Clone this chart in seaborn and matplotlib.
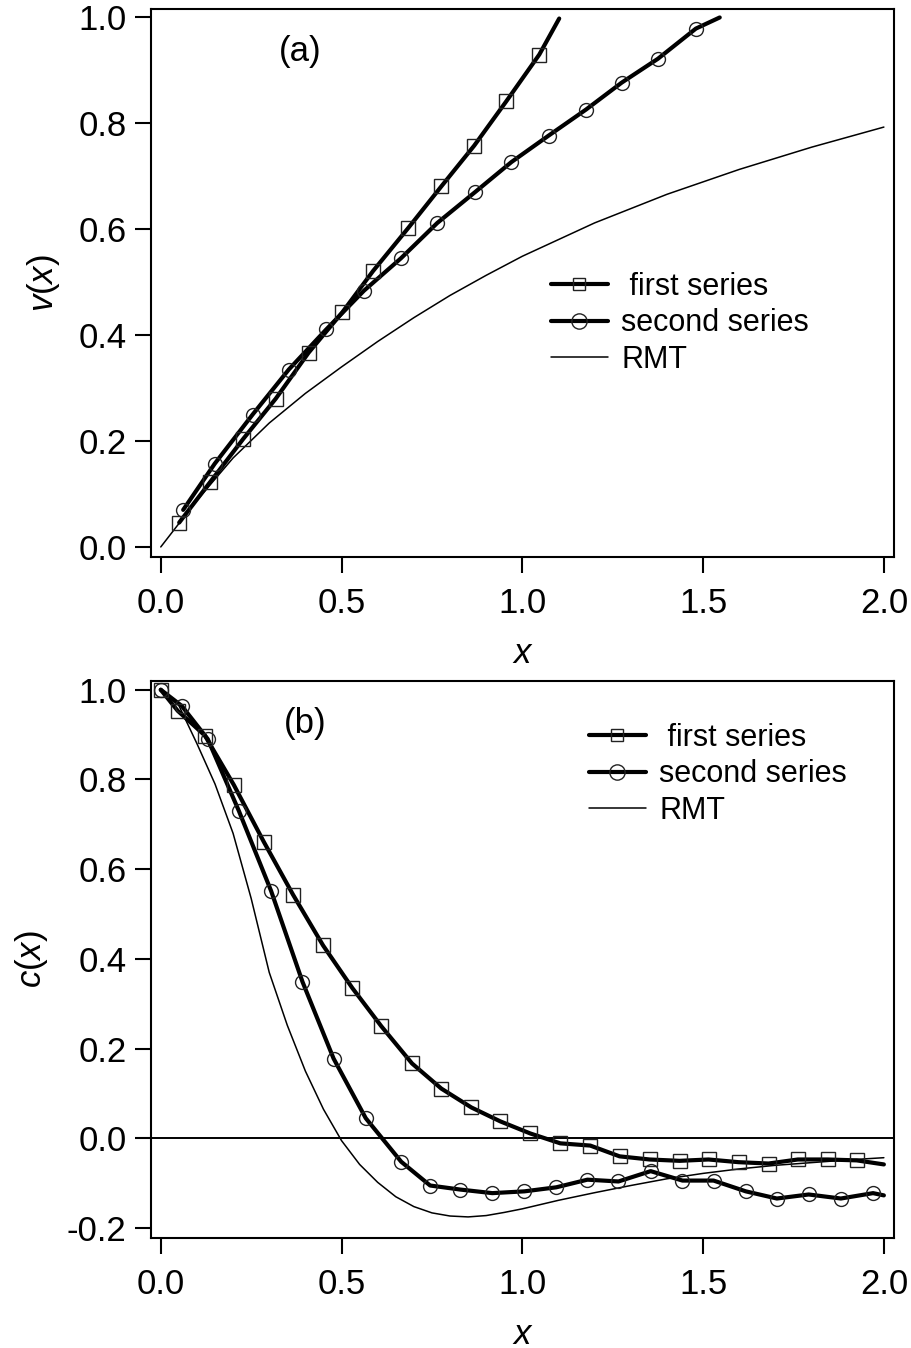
import numpy as np
import pandas as pd
import matplotlib
matplotlib.use("Agg")
import matplotlib.pyplot as plt
from matplotlib.lines import Line2D
import seaborn as sns

# ---------------- data ----------------
# panel (a): v(x)
a_first_x = [0.051, 0.136, 0.228, 0.318, 0.409, 0.502, 0.587, 0.684, 0.776, 0.867, 0.956, 1.047]
a_first_y = [0.046, 0.122, 0.204, 0.280, 0.367, 0.443, 0.521, 0.602, 0.681, 0.758, 0.842, 0.930]
a_first_end = (1.102, 0.998)

a_second_x = [0.062, 0.149, 0.254, 0.354, 0.458, 0.562, 0.664, 0.765, 0.869, 0.970, 1.073, 1.176, 1.275, 1.375, 1.480]
a_second_y = [0.070, 0.157, 0.250, 0.335, 0.411, 0.484, 0.545, 0.612, 0.670, 0.727, 0.777, 0.826, 0.877, 0.922, 0.979]
a_second_end = (1.546, 1.000)

a_rmt_x = [0.0, 0.1, 0.2, 0.3, 0.4, 0.5, 0.6, 0.7, 0.8, 0.9, 1.0, 1.2, 1.4, 1.6, 1.8, 2.0]
a_rmt_y = [0.0, 0.088, 0.168, 0.234, 0.290, 0.340, 0.388, 0.433, 0.475, 0.513, 0.549, 0.612, 0.666, 0.713, 0.755, 0.793]

# panel (b): c(x)
b_first_x = [0.0, 0.047, 0.122, 0.202, 0.285, 0.366, 0.449, 0.530, 0.610, 0.695, 0.776, 0.859, 0.939,
             1.022, 1.105, 1.188, 1.269, 1.352, 1.435, 1.515, 1.598, 1.681, 1.762, 1.845, 1.925]
b_first_y = [1.0, 0.953, 0.898, 0.788, 0.661, 0.543, 0.430, 0.335, 0.250, 0.167, 0.111, 0.069, 0.038,
             0.011, -0.011, -0.016, -0.040, -0.047, -0.050, -0.047, -0.053, -0.056, -0.047, -0.047, -0.049]
b_first_end = (2.0, -0.058)

b_second_x = [0.0, 0.058, 0.130, 0.216, 0.305, 0.392, 0.478, 0.567, 0.665, 0.745, 0.828, 0.917, 1.006,
              1.094, 1.180, 1.266, 1.355, 1.443, 1.529, 1.618, 1.704, 1.792, 1.881, 1.970]
b_second_y = [1.0, 0.964, 0.890, 0.730, 0.552, 0.349, 0.178, 0.045, -0.052, -0.105, -0.114, -0.122, -0.118,
              -0.109, -0.092, -0.096, -0.073, -0.094, -0.094, -0.118, -0.134, -0.125, -0.134, -0.122]
b_second_end = (2.0, -0.127)

b_rmt_x = [0.0, 0.05, 0.1, 0.15, 0.2, 0.25, 0.3, 0.35, 0.4, 0.45, 0.5, 0.55, 0.6, 0.65, 0.7, 0.75, 0.8,
           0.85, 0.9, 0.95, 1.0, 1.1, 1.2, 1.3, 1.4, 1.5, 1.6, 1.7, 1.8, 1.9, 2.0]
b_rmt_y = [1.0, 0.965, 0.880, 0.790, 0.680, 0.535, 0.370, 0.252, 0.150, 0.065, -0.005, -0.058, -0.098,
           -0.130, -0.152, -0.166, -0.173, -0.175, -0.172, -0.165, -0.157, -0.138, -0.121, -0.105,
           -0.090, -0.078, -0.068, -0.060, -0.054, -0.048, -0.043]
b_zero_level = 0.0

x_ticks = [0.0, 0.5, 1.0, 1.5, 2.0]
x_ticklabels = ["0.0", "0.5", "1.0", "1.5", "2.0"]
a_y_ticks = [0.0, 0.2, 0.4, 0.6, 0.8, 1.0]
a_y_ticklabels = ["0.0", "0.2", "0.4", "0.6", "0.8", "1.0"]
b_y_ticks = [-0.2, 0.0, 0.2, 0.4, 0.6, 0.8, 1.0]
b_y_ticklabels = ["-0.2", "0.0", "0.2", "0.4", "0.6", "0.8", "1.0"]
legend_labels = [" first series", "second series", "RMT"]

# ---------------- style ----------------
sns.set_theme(style="ticks")
plt.rcParams["font.family"] = ["Liberation Sans", "DejaVu Sans"]
plt.rcParams["mathtext.fontset"] = "custom"
plt.rcParams["mathtext.rm"] = "Liberation Sans"
plt.rcParams["mathtext.it"] = "Liberation Sans:italic"
plt.rcParams["text.color"] = "black"
plt.rcParams["axes.labelcolor"] = "black"
plt.rcParams["xtick.color"] = "black"
plt.rcParams["ytick.color"] = "black"

TICK_FS = 25
LEG_FS = 22
THICK = 3.0
THIN = 1.1
MS = 10

fig = plt.figure(figsize=(9.12, 13.48), dpi=100)
W, H = 912, 1348
ax_a = fig.add_axes([151 / W, 1 - 557 / H, (894 - 151) / W, (557 - 9) / H])
ax_b = fig.add_axes([151 / W, 1 - 1238 / H, (894 - 151) / W, (1238 - 681) / H])


def series(ax, xs, ys, end, marker):
    lx = list(xs) + [end[0]]
    ly = list(ys) + [end[1]]
    sns.lineplot(x=lx, y=ly, ax=ax, color="black", linewidth=THICK, sort=False,
                 estimator=None, zorder=3)
    sns.lineplot(x=xs, y=ys, ax=ax, marker=marker, linestyle="", markersize=MS,
                 markerfacecolor="none", markeredgecolor="#222222", markeredgewidth=1.0,
                 sort=False, estimator=None, zorder=4)


def style_axes(ax, yt, ytl, ylim, ylabel):
    ax.set_xlim(-0.027, 2.028)
    ax.set_ylim(*ylim)
    ax.set_xticks(x_ticks)
    ax.set_xticklabels(x_ticklabels)
    ax.set_yticks(yt)
    ax.set_yticklabels(ytl)
    ax.tick_params(axis="both", direction="out", length=11.5, width=1.5,
                   labelsize=TICK_FS, color="black", labelcolor="black")
    ax.tick_params(axis="x", pad=10)
    ax.tick_params(axis="y", pad=6)
    for s in ax.spines.values():
        s.set_visible(True)
        s.set_linewidth(1.5)
        s.set_color("black")
    ax.set_xlabel(r"$x$", fontsize=TICK_FS, labelpad=12)
    ax.set_ylabel(ylabel, fontsize=TICK_FS, labelpad=12)
    ax.set_facecolor("white")
    ax.grid(False)


def legend(ax, anchor):
    handles = [
        Line2D([], [], color="black", lw=THICK, marker="s", markersize=MS - 1,
               markerfacecolor="none", markeredgecolor="#222222", markeredgewidth=1.0),
        Line2D([], [], color="black", lw=THICK, marker="o", markersize=MS + 1,
               markerfacecolor="none", markeredgecolor="#222222", markeredgewidth=1.0),
        Line2D([], [], color="black", lw=THIN),
    ]
    ax.legend(handles, legend_labels, loc="upper left", bbox_to_anchor=anchor,
              bbox_transform=fig.transFigure, frameon=False, fontsize=LEG_FS,
              handlelength=1.85, handletextpad=0.45, labelspacing=0.21,
              borderpad=0, borderaxespad=0, labelcolor="black")


# ---- panel (a)
series(ax_a, a_first_x, a_first_y, a_first_end, "s")
series(ax_a, a_second_x, a_second_y, a_second_end, "o")
sns.lineplot(x=a_rmt_x, y=a_rmt_y, ax=ax_a, color="black", linewidth=THIN, sort=False, estimator=None)
style_axes(ax_a, a_y_ticks, a_y_ticklabels, (-0.019, 1.016), r"$v(x)$")
ax_a.text(0.385, 0.935, "(a)", fontsize=TICK_FS, ha="center", va="center")
legend(ax_a, (551 / W, 1 - 272 / H))

# ---- panel (b)
ax_b.axhline(b_zero_level, color="black", linewidth=1.4, zorder=1)
series(ax_b, b_first_x, b_first_y, b_first_end, "s")
series(ax_b, b_second_x, b_second_y, b_second_end, "o")
sns.lineplot(x=b_rmt_x, y=b_rmt_y, ax=ax_b, color="black", linewidth=THIN, sort=False, estimator=None)
style_axes(ax_b, b_y_ticks, b_y_ticklabels, (-0.222, 1.0195), r"$c(x)$")
ax_b.text(0.40, 0.925, "(b)", fontsize=TICK_FS, ha="center", va="center")
legend(ax_b, (589 / W, 1 - 723 / H))

fig.savefig("out.png", dpi=100, facecolor="white")
